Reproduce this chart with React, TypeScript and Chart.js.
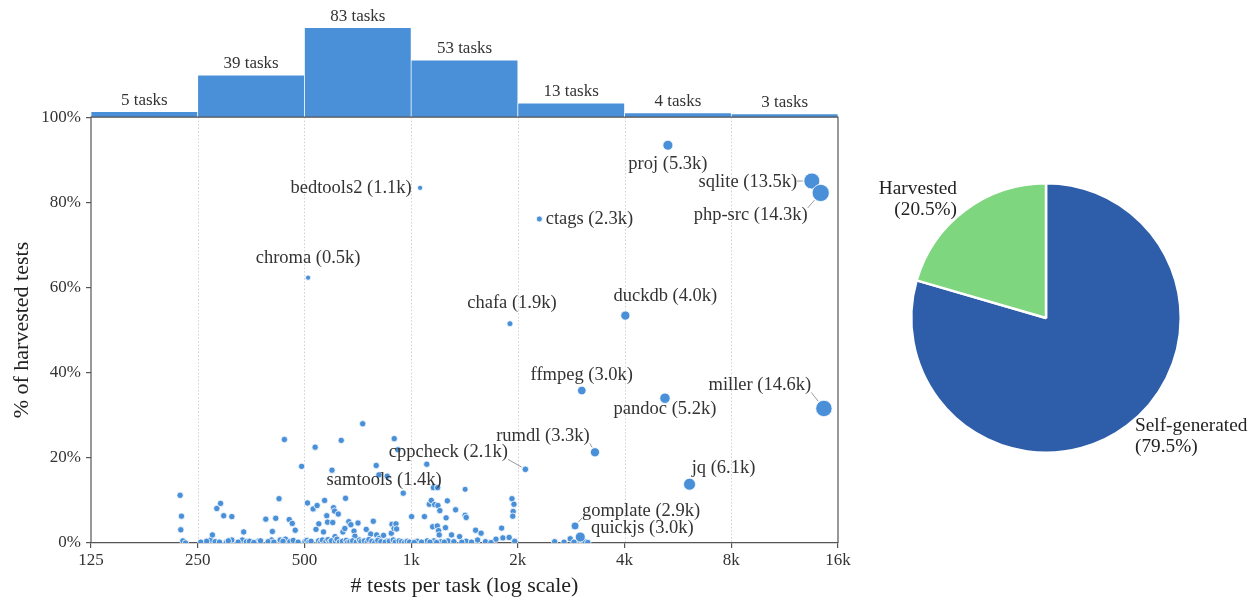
import React, { useEffect, useRef } from 'react';
import { Chart, registerables } from 'chart.js';

Chart.register(...registerables);

// ---------- data ----------
const xTickValues = [125, 250, 500, 1000, 2000, 4000, 8000, 16000];
const xTickLabels = ['125', '250', '500', '1k', '2k', '4k', '8k', '16k'];
const yTickValues = [0, 20, 40, 60, 80, 100];

const histBinEdges = [125, 250, 500, 1000, 2000, 4000, 8000, 16000];
const histCounts = [5, 39, 83, 53, 13, 4, 3];

const labeledNames = ['proj', 'sqlite', 'php-src', 'bedtools2', 'ctags', 'chroma', 'chafa', 'duckdb', 'ffmpeg', 'pandoc', 'miller', 'rumdl', 'cppcheck', 'samtools', 'jq', 'gomplate', 'quickjs'];
const labeledTests = [5300, 13500, 14300, 1060, 2300, 512, 1900, 4020, 3030, 5200, 14600, 3300, 2100, 1420, 6100, 2900, 3000];
const labeledPct = [93.4, 85.0, 82.2, 83.4, 76.1, 62.3, 51.5, 53.4, 35.8, 34.0, 31.6, 21.3, 17.3, 12.6, 13.8, 4.0, 1.4];

// other tasks: [tests, % harvested]
const tasksBelow250: [number, number][] = [
  [223, 11.2], [225, 6.3], [224, 3.1], [227, 0.5], [231, 0.0],
];
const tasks250to500: [number, number][] = [
  [272, 0.7], [275, 1.9], [280, 0.3], [283, 8.1], [290, 9.3], [296, 6.4], [301, 0.1], [312, 6.2], [312, 0.7], [334, 0.7],
  [337, 2.6], [343, 0.3], [372, 0.5], [376, 0.5], [389, 5.6], [404, 0.7], [406, 2.7], [415, 5.8], [424, 10.4], [427, 0.7],
  [439, 24.3], [442, 0.9], [453, 5.5], [462, 4.6], [471, 3.0], [491, 18.0], [255, 0.2], [265, 0.4], [288, 0.2], [305, 0.5],
  [325, 0.2], [350, 0.4], [360, 0.1], [395, 0.3], [410, 0.2], [435, 0.4], [455, 0.3], [465, 0.6], [480, 0.2],
];
const tasks500to1k: [number, number][] = [
  [510, 9.4], [529, 8.0], [536, 22.5], [543, 8.8], [549, 4.5], [539, 3.2], [566, 2.6], [570, 10.0], [578, 6.4], [581, 4.9],
  [598, 17.1], [601, 4.8], [604, 8.3], [608, 7.5], [610, 1.5], [623, 6.8], [635, 24.1], [642, 2.6], [650, 3.4], [653, 10.5],
  [667, 5.0], [676, 4.3], [690, 2.8], [694, 1.6], [708, 4.7], [730, 28.0], [747, 3.2], [769, 2.1], [782, 5.1], [797, 18.2],
  [799, 1.9], [811, 16.0], [813, 1.1], [836, 1.8], [856, 15.7], [857, 0.5], [879, 2.3], [883, 4.4], [895, 3.4], [906, 4.5],
  [910, 3.3], [896, 24.5], [918, 21.9], [950, 11.7],
  [502, 0.3], [508, 0.6], [515, 0.2], [522, 0.4], [548, 0.5], [556, 0.2], [562, 0.7], [575, 0.3], [583, 0.8], [590, 0.2],
  [596, 0.5], [612, 0.3], [618, 0.9], [628, 0.2], [640, 0.4], [656, 0.6], [662, 0.1], [672, 0.3], [684, 0.5], [700, 0.2],
  [715, 0.7], [722, 0.3], [738, 0.5], [752, 0.2], [760, 0.8], [775, 0.4], [790, 0.1], [805, 0.6], [822, 0.3], [845, 0.2],
  [868, 0.4], [890, 0.7], [902, 0.2], [925, 0.5], [940, 0.3], [958, 0.1], [975, 0.4], [990, 0.2],
];
const tasks1kto2k: [number, number][] = [
  [1003, 6.2], [1090, 6.2], [1107, 18.5], [1125, 9.1], [1140, 10.0], [1150, 3.8], [1155, 13.0], [1165, 9.0], [1185, 4.0], [1188, 13.0],
  [1190, 8.8], [1195, 2.9], [1200, 1.9], [1205, 7.6], [1250, 3.6], [1255, 5.9], [1265, 9.9], [1300, 1.9], [1335, 7.8], [1370, 1.5],
  [1420, 6.5], [1430, 6.0], [1520, 3.0], [1575, 2.3], [1800, 3.5], [1925, 10.4], [1950, 9.1], [1940, 7.4], [1935, 6.3], [1815, 1.2],
  [1890, 1.3], [1040, 0.4], [1110, 0.5], [1160, 0.5], [1215, 0.3], [1270, 0.5], [1430, 0.4], [1540, 0.7], [1735, 0.9], [1020, 0.1],
  [1070, 0.2], [1130, 0.2], [1180, 0.1], [1240, 0.2], [1320, 0.3], [1390, 0.2], [1480, 0.2], [1620, 0.3], [1680, 0.1], [1960, 0.4],
];
const tasks2kto4k: [number, number][] = [
  [2540, 0.3], [2810, 1.0], [2960, 0.7], [3090, 0.3], [2700, 0.2], [3150, 0.1], [2880, 0.2],
];

const pieLabels = ['Self-generated', 'Harvested'];
const pieValues = [79.5, 20.5];

// ---------- layout / style ----------
const FONT = '"Liberation Serif", "Times New Roman", serif';
const TEXT = '#333333';
const AXIS = '#555555';
const BLUE = '#4a90d9';
const PIE_COLORS = ['#2e5ea9', '#7ed67e'];
const Y_MAX = 125.3; // plot top incl. histogram band (in % units)
const HIST_MAX = 100;
const HIST_MIN = -HIST_MAX * 100 / (Y_MAX - 100);
const DEFAULT_RADIUS = 3.2;

const LABEL_LAYOUT: Record<string, { dx: number; dy: number; r: number; leader?: boolean }> = {
  proj: { dx: 0, dy: 19, r: 5 },
  sqlite: { dx: -64, dy: 1, r: 8, leader: true },
  'php-src': { dx: -70, dy: 22, r: 8.6, leader: true },
  bedtools2: { dx: -69, dy: 0, r: 2.6 },
  ctags: { dx: 50, dy: 0, r: 3 },
  chroma: { dx: 0, dy: -20, r: 2.6 },
  chafa: { dx: 2, dy: -21, r: 3 },
  duckdb: { dx: 40, dy: -19, r: 4.6 },
  ffmpeg: { dx: 0, dy: -15, r: 4.3 },
  pandoc: { dx: 0, dy: 11, r: 5.2 },
  miller: { dx: -64, dy: -23, r: 8.2, leader: true },
  rumdl: { dx: -52, dy: -16, r: 4.6, leader: true },
  cppcheck: { dx: -77, dy: -17, r: 3.3, leader: true },
  samtools: { dx: -81, dy: -9, r: 3 },
  jq: { dx: 34, dy: -16, r: 6 },
  gomplate: { dx: 66, dy: -15, r: 4, leader: true },
  quickjs: { dx: 62, dy: -9, r: 5 },
};

const kLabel = (n: number) => `${(n / 1000).toFixed(1)}k`;

const scatterOverlay = {
  id: 'scatterOverlay',
  beforeDatasetsDraw(chart: any) {
    const { ctx, scales } = chart;
    const x = scales.x, y = scales.y;
    const y0 = y.getPixelForValue(0), y100 = y.getPixelForValue(100);
    ctx.save();
    ctx.strokeStyle = '#c4c4c4';
    ctx.lineWidth = 0.8;
    ctx.setLineDash([1.5, 2]);
    xTickValues.slice(1, -1).forEach((v) => {
      const px = Math.round(x.getPixelForValue(v)) + 0.5;
      ctx.beginPath();
      ctx.moveTo(px, y100);
      ctx.lineTo(px, y0);
      ctx.stroke();
    });
    ctx.restore();
  },
  afterDatasetsDraw(chart: any) {
    const { ctx, scales, chartArea } = chart;
    const x = scales.x, y = scales.y;
    const y0 = y.getPixelForValue(0), y100 = y.getPixelForValue(100);
    ctx.save();
    // spines
    ctx.strokeStyle = AXIS;
    ctx.lineWidth = 1.2;
    ctx.beginPath();
    ctx.moveTo(chartArea.left, y0);
    ctx.lineTo(chartArea.left, y100);
    ctx.lineTo(chartArea.right, y100);
    ctx.lineTo(chartArea.right, y0);
    ctx.stroke();

    // histogram labels
    const histMeta = chart.getDatasetMeta(0);
    ctx.fillStyle = TEXT;
    ctx.font = `17px ${FONT}`;
    ctx.textAlign = 'center';
    ctx.textBaseline = 'bottom';
    histMeta.data.forEach((el: any, i: number) => {
      ctx.fillText(`${histCounts[i]} tasks`, el.x, el.y - 3);
    });

    // point labels
    ctx.font = `18.5px ${FONT}`;
    ctx.textBaseline = 'middle';
    labeledNames.forEach((name, i) => {
      const px = x.getPixelForValue(labeledTests[i]);
      const py = y.getPixelForValue(labeledPct[i]);
      const lay = LABEL_LAYOUT[name];
      const text = `${name} (${kLabel(labeledTests[i])})`;
      const cx = px + lay.dx, cy = py + lay.dy;
      const w = ctx.measureText(text).width;
      if (lay.leader) {
        const bx = Math.min(Math.max(px, cx - w / 2), cx + w / 2);
        const by = Math.min(Math.max(py, cy - 7), cy + 7);
        const dx = bx - px, dy = by - py;
        const len = Math.hypot(dx, dy);
        const r = lay.r + 1;
        if (len > r + 1) {
          ctx.strokeStyle = '#9a9a9a';
          ctx.lineWidth = 1;
          ctx.beginPath();
          ctx.moveTo(px + (dx / len) * r, py + (dy / len) * r);
          ctx.lineTo(bx, by);
          ctx.stroke();
        }
      }
      ctx.fillStyle = TEXT;
      ctx.fillText(text, cx, cy);
    });

    // y axis title
    ctx.save();
    ctx.translate(22, (y0 + y100) / 2);
    ctx.rotate(-Math.PI / 2);
    ctx.font = `22px ${FONT}`;
    ctx.fillStyle = '#222';
    ctx.textAlign = 'center';
    ctx.textBaseline = 'middle';
    ctx.fillText('% of harvested tests', 0, 0);
    ctx.restore();
    ctx.restore();
  },
};

const pieLabelPlugin = {
  id: 'pieLabels',
  afterDatasetsDraw(chart: any) {
    const { ctx } = chart;
    const meta = chart.getDatasetMeta(0);
    ctx.save();
    ctx.font = `19.3px ${FONT}`;
    ctx.fillStyle = '#222';
    ctx.textBaseline = 'middle';
    meta.data.forEach((arc: any, i: number) => {
      const mid = (arc.startAngle + arc.endAngle) / 2;
      const r = arc.outerRadius * 1.1;
      const lx = arc.x + Math.cos(mid) * r;
      const ly = arc.y + Math.sin(mid) * r;
      ctx.textAlign = Math.cos(mid) < 0 ? 'right' : 'left';
      const lines = [pieLabels[i], `(${pieValues[i].toFixed(1)}%)`];
      const lh = 21;
      lines.forEach((t, k) => {
        ctx.fillText(t, lx, ly + (k - (lines.length - 1) / 2) * lh);
      });
    });
    ctx.restore();
  },
};

export default function App() {
  const scatterRef = useRef<HTMLCanvasElement>(null);
  const pieRef = useRef<HTMLCanvasElement>(null);

  useEffect(() => {
    const others = [...tasksBelow250, ...tasks250to500, ...tasks500to1k, ...tasks1kto2k, ...tasks2kto4k];
    const points = [
      ...others.map(([t, p]) => ({ x: t, y: p, r: DEFAULT_RADIUS })),
      ...labeledTests.map((t, i) => ({ x: t, y: labeledPct[i], r: LABEL_LAYOUT[labeledNames[i]].r })),
    ];
    const histData = histCounts.map((c, i) => ({ x: Math.sqrt(histBinEdges[i] * histBinEdges[i + 1]), y: c }));
    const tickFont = { family: FONT, size: 17 };

    const c1 = new Chart(scatterRef.current as HTMLCanvasElement, {
      type: 'scatter',
      data: {
        datasets: [
          {
            type: 'bar',
            data: histData as any,
            xAxisID: 'x',
            yAxisID: 'yh',
            backgroundColor: BLUE,
            borderColor: '#ffffff',
            borderWidth: 0.7,
            borderSkipped: 'bottom',
            barPercentage: 1,
            categoryPercentage: 1,
          } as any,
          {
            type: 'scatter',
            data: points,
            xAxisID: 'x',
            yAxisID: 'y',
            backgroundColor: BLUE,
            borderColor: '#ffffff',
            borderWidth: 0.8,
            pointRadius: (c: any) => (c.raw ? c.raw.r : DEFAULT_RADIUS),
            pointHoverRadius: (c: any) => (c.raw ? c.raw.r : DEFAULT_RADIUS),
            clip: { left: false, top: false, right: false, bottom: 0 },
          } as any,
        ],
      },
      options: {
        responsive: false,
        animation: false,
        devicePixelRatio: 1,
        layout: { padding: { left: 0, right: 22, top: 8, bottom: 0 } },
        plugins: { legend: { display: false }, tooltip: { enabled: false } },
        events: [],
        scales: {
          x: {
            type: 'logarithmic',
            min: 125,
            max: 16000,
            offset: false,
            afterBuildTicks: (s: any) => {
              s.ticks = xTickValues.map((v) => ({ value: v }));
            },
            afterFit: (s: any) => {
              s.height = 58;
              s.paddingLeft = 0;
              s.paddingRight = 0;
            },
            ticks: {
              callback: (v: any) => {
                const i = xTickValues.indexOf(Number(v));
                return i >= 0 ? xTickLabels[i] : '';
              },
              font: tickFont,
              color: TEXT,
              maxRotation: 0,
              autoSkip: false,
              padding: 2,
            },
            grid: { drawOnChartArea: false, drawTicks: true, tickLength: 5, color: AXIS, offset: false, lineWidth: 1.2 },
            border: { display: true, color: AXIS, width: 1.2 },
            title: {
              display: true,
              text: '# tests per task (log scale)',
              font: { family: FONT, size: 22 },
              color: '#222',
              padding: { top: 0, bottom: 2 },
            },
          },
          y: {
            type: 'linear',
            min: 0,
            max: Y_MAX,
            afterBuildTicks: (s: any) => {
              s.ticks = yTickValues.map((v) => ({ value: v }));
            },
            afterFit: (s: any) => {
              s.width = 91;
              s.paddingTop = 0;
              s.paddingBottom = 0;
            },
            ticks: { callback: (v: any) => `${v}%`, font: tickFont, color: TEXT, padding: 5 },
            grid: { drawOnChartArea: false, drawTicks: true, tickLength: 5, color: AXIS, lineWidth: 1.2 },
            border: { display: false },
          },
          yh: { type: 'linear', display: false, min: HIST_MIN, max: HIST_MAX },
        } as any,
      },
      plugins: [scatterOverlay],
    } as any);

    const c2 = new Chart(pieRef.current as HTMLCanvasElement, {
      type: 'pie',
      data: {
        labels: pieLabels,
        datasets: [{ data: pieValues, backgroundColor: PIE_COLORS, borderColor: '#ffffff', borderWidth: 2.5 }],
      },
      options: {
        responsive: false,
        animation: false,
        devicePixelRatio: 1,
        events: [],
        layout: { padding: { left: 50, right: 73, top: 182, bottom: 147 } },
        plugins: { legend: { display: false }, tooltip: { enabled: false } },
      },
      plugins: [pieLabelPlugin],
    } as any);

    return () => {
      c1.destroy();
      c2.destroy();
    };
  }, []);

  return (
    <div style={{ position: 'fixed', left: 0, top: 0, width: 1255, height: 601, background: '#ffffff' }}>
      <canvas ref={scatterRef} width={860} height={601} style={{ position: 'absolute', left: 0, top: 0, width: 860, height: 601 }} />
      <canvas ref={pieRef} width={395} height={601} style={{ position: 'absolute', left: 860, top: 0, width: 395, height: 601 }} />
    </div>
  );
}
